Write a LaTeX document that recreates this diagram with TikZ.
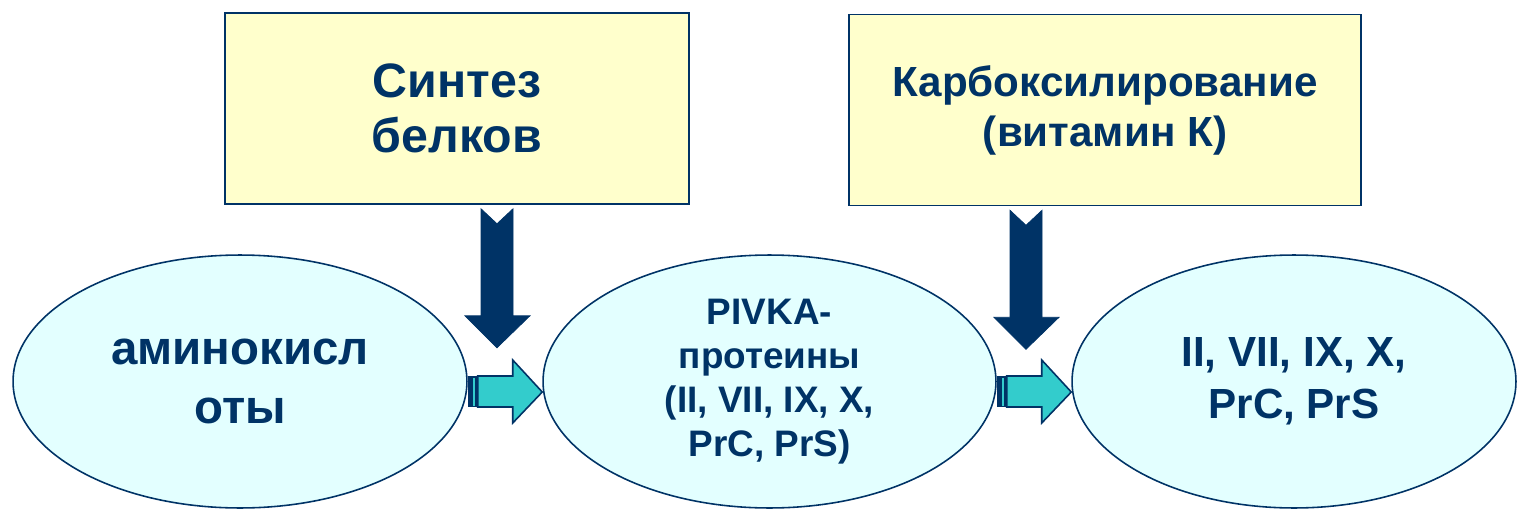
\documentclass[tikz,border=0pt]{standalone}
\usepackage{fontspec}
\setmainfont{Liberation Sans}
\usetikzlibrary{shapes.geometric,calc}
\definecolor{navy}{HTML}{003366}
\definecolor{paleyellow}{HTML}{FFFFCC}
\definecolor{palecyan}{HTML}{E3FFFF}
\definecolor{arrowcyan}{HTML}{33CCCC}
\newcommand*{\fsize}[2]{\fontsize{#1}{#2}\selectfont}

\begin{document}
\begin{tikzpicture}[x=0.02cm, y=-0.02cm,%
  % common options for the yellow boxes:
  box/.style = {draw=navy, fill=paleyellow, line width=0.9pt, align=center,
              minimum height=3.82cm, inner sep=0, text=navy},
  % common options for the ellipses:
  oval/.style = {ellipse, draw=navy, fill=palecyan, line width=0.9pt,
              align=center, minimum height=5.06cm, inner sep=0, text=navy},
  bigarrow/.style = {fill=navy, draw=navy, line width=0.4pt},
  flowarrow/.style = {fill=arrowcyan, draw=navy, line width=0.9pt, line join=miter}]

\useasboundingbox (0,0) rectangle (1517,510);

% boxes on top
\node[box,minimum width=9.28cm,font=\bfseries\fsize{27.5}{31}] (syn) at (457,108.5)
   {Синтез\\белков};
\node[box,minimum width=10.24cm,font=\bfseries\fsize{24}{28.5}] (carb) at (1105,110)
   {Карбоксилирование\\(витамин К)};

% ellipses in the lower row
\node[oval,minimum width=9.08cm,font=\bfseries\fsize{27}{34}] (amino) at (240,381.5)
   {аминокисл\\оты};
\node[oval,minimum width=9.06cm,font=\bfseries\fsize{21}{25}] (pivka) at (769.5,381.5)
   {PIVKA-\\протеины\\(II, VII, IX, X,\\PrC, PrS)};
\node[oval,minimum width=8.88cm,font=\bfseries\fsize{24}{29.6}] (fact) at (1294,381.5)
   {II, VII, IX, X,\\PrC, PrS};

% thick arrows coming down from the boxes
\draw[bigarrow] ($(syn.south)+(24,4)$) -- ++(16,15) -- ++(16,-15) -- ++(0,107)
   -- ++(17,0) -- ++(-33,32) -- ++(-32,-32) -- ++(16,0) -- cycle;
\draw[bigarrow] ($(carb.south)+(-95,4)$) -- ++(16,15) -- ++(16,-15) -- ++(0,107)
   -- ++(17,0) -- ++(-33,32) -- ++(-32,-32) -- ++(16,0) -- cycle;

% striped arrow from amino acids to PIVKA
\fill[navy] ($(amino.east)+(0,-5.5)$) rectangle ++(10,31);
\fill[arrowcyan] ($(amino.east)+(5,-4)$) rectangle ++(2,28);
\draw[flowarrow] ($(amino.east)+(10,-5.5)$) -- ++(35,0) -- ++(0,-16)
   -- ($(pivka.west)+(0,10.5)$) -- ($(amino.east)+(45,41.5)$) -- ++(0,-16)
   -- ++(-35,0) -- cycle;

% striped arrow from PIVKA to the factors
\fill[navy] ($(pivka.east)+(0,-5.5)$) rectangle ++(10,31);
\fill[arrowcyan] ($(pivka.east)+(5,-4)$) rectangle ++(2,28);
\draw[flowarrow] ($(pivka.east)+(10,-5.5)$) -- ++(35,0) -- ++(0,-16)
   -- ($(fact.west)+(0,10.5)$) -- ($(pivka.east)+(45,41.5)$) -- ++(0,-16)
   -- ++(-35,0) -- cycle;
\end{tikzpicture}
\end{document}
